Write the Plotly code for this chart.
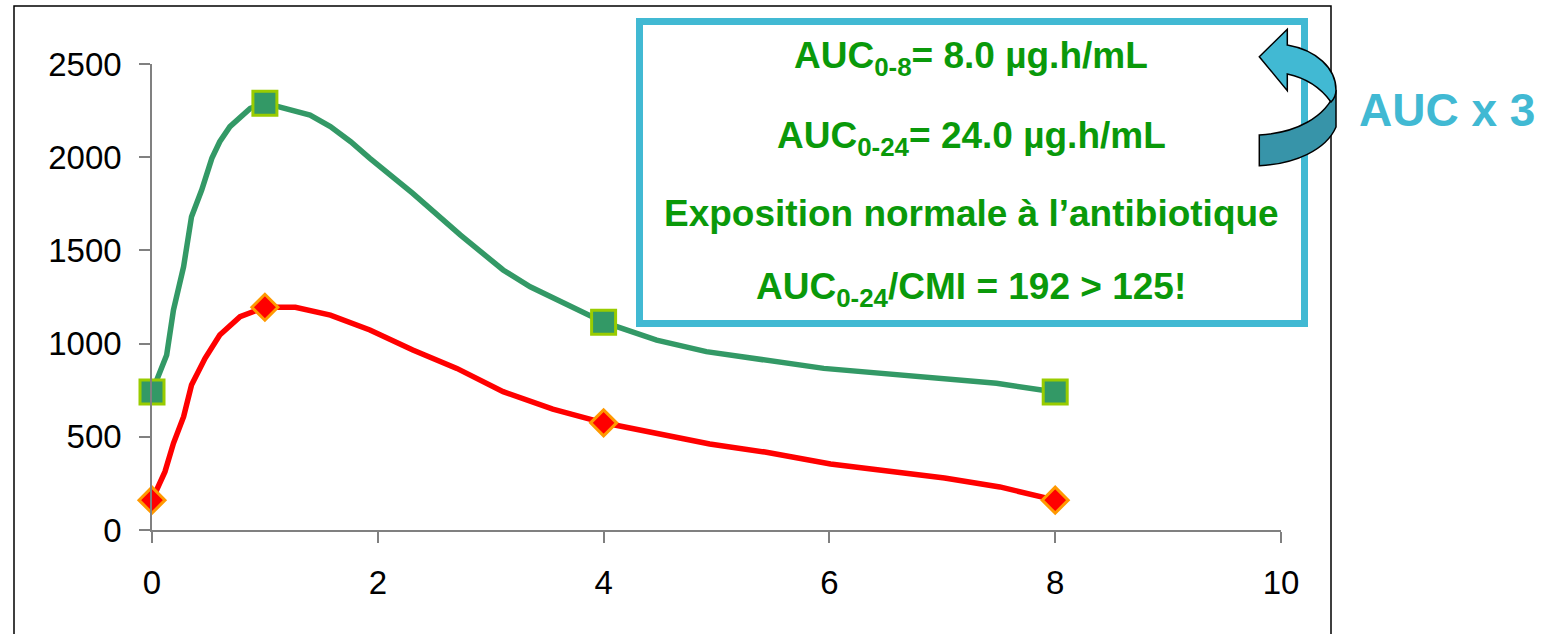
import plotly.graph_objects as go

# ---- data ----
t_obs = [0, 1, 4, 8]
green_obs = [740, 2290, 1115, 740]
red_obs = [160, 1195, 575, 160]

green_t = [0, 0.13, 0.19, 0.28, 0.35, 0.44, 0.53, 0.60, 0.69, 0.87, 1.0, 1.40, 1.58,
           1.76, 1.93, 2.31, 2.73, 3.11, 3.35, 4.0, 4.47, 4.91, 5.95, 7.48, 8.0]
green_c = [740, 939, 1180, 1413, 1681, 1824, 1994, 2083, 2164, 2262, 2290, 2226, 2164,
           2083, 1994, 1806, 1583, 1395, 1305, 1115, 1019, 957, 867, 787, 740]

red_t = [0, 0.115, 0.19, 0.28, 0.35, 0.47, 0.60, 0.78, 1.0, 1.27, 1.58, 1.93, 2.31,
         2.70, 3.11, 3.55, 4.0, 4.32, 4.94, 5.43, 6.01, 7.02, 7.51, 8.0]
red_c = [160, 313, 465, 608, 778, 921, 1046, 1144, 1195, 1195, 1153, 1073, 966,
         867, 742, 648, 575, 536, 461, 418, 354, 279, 231, 160]

x_ticks = [0, 2, 4, 6, 8, 10]
y_ticks = [0, 500, 1000, 1500, 2000, 2500]

box_lines = [
    "AUC<sub>0-8</sub>= 8.0 µg.h/mL",
    "AUC<sub>0-24</sub>= 24.0 µg.h/mL",
    "Exposition normale à l’antibiotique",
    "AUC<sub>0-24</sub>/CMI = 192 > 125!",
]
side_label = "AUC x 3"

# ---- layout geometry (pixels) ----
W, H = 1560, 634
L, R, T, B = 152, 1281, 64, 530


def px(x):
    return (x - L) / (R - L)


def py(y):
    return (B - y) / (B - T)


GREEN_LINE = "#339966"
RED = "#FF0000"
CYAN = "#41B9D3"
TEXT_GREEN = "#0A990A"

fig = go.Figure()
fig.add_trace(go.Scatter(x=green_t, y=green_c, mode="lines",
                         line=dict(color=GREEN_LINE, width=5.5), hoverinfo="skip",
                         showlegend=False, cliponaxis=False))
fig.add_trace(go.Scatter(x=red_t, y=red_c, mode="lines",
                         line=dict(color=RED, width=5.5), hoverinfo="skip",
                         showlegend=False, cliponaxis=False))
fig.add_trace(go.Scatter(x=t_obs, y=green_obs, mode="markers",
                         marker=dict(symbol="square", size=24, color=GREEN_LINE,
                                     line=dict(color="#99CC00", width=3)),
                         showlegend=False, cliponaxis=False))
fig.add_trace(go.Scatter(x=t_obs, y=red_obs, mode="markers",
                         marker=dict(symbol="diamond", size=20, color=RED,
                                     line=dict(color="#FF9900", width=3)),
                         showlegend=False, cliponaxis=False))

axis_common = dict(showgrid=False, zeroline=False, showline=True,
                   linecolor="#808080", linewidth=1.5, ticks="outside",
                   ticklen=11, tickwidth=1.5, tickcolor="#808080",
                   tickfont=dict(family="Liberation Sans, Arial, sans-serif",
                                 size=33, color="black"))

fig.update_layout(
    width=W, height=H,
    margin=dict(l=L, r=W - R, t=T, b=H - B),
    paper_bgcolor="white", plot_bgcolor="white",
    xaxis=dict(range=[0, 10], tickvals=x_ticks, ticklabelstandoff=12, **axis_common),
    yaxis=dict(range=[0, 2500], tickvals=y_ticks, ticklabelstandoff=11, **axis_common),
)

shapes = []
# outer chart border
shapes.append(dict(type="rect", xref="paper", yref="paper",
                   x0=px(14), x1=px(1331), y0=py(640), y1=py(6),
                   line=dict(color="black", width=1.5), layer="below"))
# cyan text box
shapes.append(dict(type="rect", xref="paper", yref="paper",
                   x0=px(639.5), x1=px(1304.5), y0=py(323.5), y1=py(21.5),
                   line=dict(color=CYAN, width=7), fillcolor="white", layer="above"))


def path(points_cmds):
    out = []
    for cmd in points_cmds:
        if isinstance(cmd, str):
            out.append(cmd)
        else:
            out.append(f"{px(cmd[0]):.5f},{py(cmd[1]):.5f}")
    return " ".join(out)


dark = path(["M", (1336, 90), "L", (1336, 127),
             "C", (1326, 150), (1295, 164), (1259.3, 165.7),
             "L", (1259.3, 135),
             "C", (1295, 133), (1326, 118), (1336, 90), "Z"])
light = path(["M", (1259.3, 56.7), "L", (1287.3, 29.3), "L", (1287.3, 45),
              "C", (1316, 50), (1336, 68), (1336, 90),
              "C", (1336, 96), (1334, 99), (1331, 102),
              "C", (1321, 88), (1306, 78), (1287.3, 74),
              "L", (1287.3, 90.7), "Z"])
shapes.append(dict(type="path", xref="paper", yref="paper", path=dark,
                   fillcolor="#3794A9", line=dict(color="black", width=1.5), layer="above"))
shapes.append(dict(type="path", xref="paper", yref="paper", path=light,
                   fillcolor=CYAN, line=dict(color="black", width=1.5), layer="above"))
fig.update_layout(shapes=shapes)

text_font = dict(family="Liberation Sans, Arial, sans-serif",
                 size=37, color=TEXT_GREEN, weight="bold")
line_y = [58, 137.5, 213, 289]
for txt, yy in zip(box_lines, line_y):
    fig.add_annotation(text=txt, xref="paper", yref="paper", x=px(971), y=py(yy),
                       xanchor="center", yanchor="middle", showarrow=False,
                       font=text_font)

fig.add_annotation(text=side_label, xref="paper", yref="paper", x=px(1446.5), y=py(109.5),
                   xanchor="center", yanchor="middle", showarrow=False,
                   font=dict(family="Liberation Sans, Arial, sans-serif",
                             size=46, color=CYAN, weight="bold"))

fig.write_html("out.html")
